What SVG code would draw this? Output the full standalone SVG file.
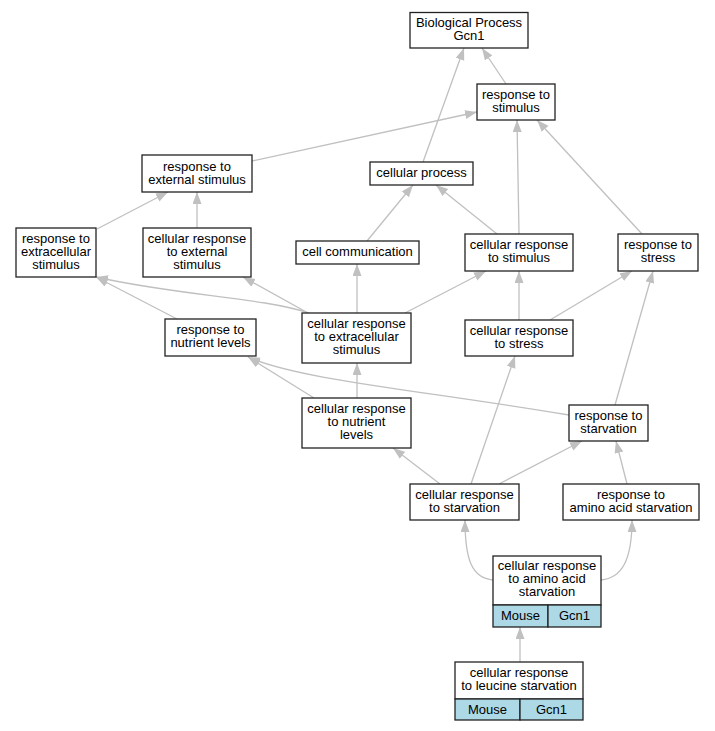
<svg xmlns="http://www.w3.org/2000/svg" width="715" height="731" viewBox="0 0 715 731">
<style>
.n rect{fill:#fff;stroke:#222;stroke-width:1.3}
.n rect.c{fill:#add8e6}
text{font-family:"Liberation Sans",Arial,sans-serif;font-size:13px;fill:#000;text-anchor:middle}
#edges path{fill:none;stroke:#c0c0c0;stroke-width:1.3;marker-end:url(#ah)}
</style>
<defs>
<marker id="ah" markerUnits="userSpaceOnUse" markerWidth="13" markerHeight="10" refX="12" refY="4.5" orient="auto">
<path d="M0,0 L12,4.5 L0,9 z" fill="#c0c0c0"/>
</marker>
</defs>
<rect width="715" height="731" fill="#fff"/>
<g id="edges">
<path d="M506,84 L482,48"/>
<path d="M423,162 L464,48"/>
<path d="M252,161 L477,112"/>
<path d="M519,234 L517,120"/>
<path d="M642,234 L537,120"/>
<path d="M97,229 L168,192"/>
<path d="M197,228 L197,192"/>
<path d="M367,241 L413,185"/>
<path d="M497,234 L436,185"/>
<path d="M309,313 C260,297 180,296 96,277"/>
<path d="M177,319 L96,277"/>
<path d="M308,313 L243,277"/>
<path d="M357,313 L357,264"/>
<path d="M405,313 L486,271"/>
<path d="M519,320 L519,271"/>
<path d="M550,320 L632,271"/>
<path d="M615,405 L653,271"/>
<path d="M569,415 C420,390 300,380 248,357"/>
<path d="M314,398 L248,357"/>
<path d="M357,398 L357,363"/>
<path d="M440,484 L393,448"/>
<path d="M471,484 L515,356"/>
<path d="M499,484 L582,441"/>
<path d="M627,484 L616,441"/>
<path d="M493,580 C472,578 465,560 465,520"/>
<path d="M601,580 C622,578 632,560 632,520"/>
<path d="M520,662 L520,627"/>
</g>
<g id="bp" class="n"><rect x="410" y="12.5" width="118" height="35.5"/><text x="469" y="27">Biological Process<tspan x="469" dy="13">Gcn1</tspan></text></g>
<g id="rs" class="n"><rect x="477" y="84" width="78" height="36"/><text x="516" y="99">response to<tspan x="516" dy="13">stimulus</tspan></text></g>
<g id="res_ext" class="n"><rect x="142" y="155" width="110" height="37"/><text x="197" y="170.5">response to<tspan x="197" dy="13">external stimulus</tspan></text></g>
<g id="cp" class="n"><rect x="370" y="162" width="103" height="23"/><text x="421.5" y="177">cellular process</text></g>
<g id="res_extra" class="n"><rect x="16" y="228" width="80" height="49"/><text x="56" y="242.5">response to<tspan x="56" dy="13">extracellular</tspan><tspan x="56" dy="13">stimulus</tspan></text></g>
<g id="cr_ext" class="n"><rect x="143" y="228" width="108" height="49"/><text x="197" y="242.5">cellular response<tspan x="197" dy="13">to external</tspan><tspan x="197" dy="13">stimulus</tspan></text></g>
<g id="cc" class="n"><rect x="296" y="241" width="123" height="23"/><text x="357.5" y="256">cell communication</text></g>
<g id="cr_stim" class="n"><rect x="465" y="234" width="108" height="37"/><text x="519" y="249">cellular response<tspan x="519" dy="13">to stimulus</tspan></text></g>
<g id="rstress" class="n"><rect x="618" y="234" width="80" height="37"/><text x="658" y="249">response to<tspan x="658" dy="13">stress</tspan></text></g>
<g id="rnut" class="n"><rect x="165" y="319" width="91" height="37"/><text x="210.5" y="334">response to<tspan x="210.5" dy="13">nutrient levels</tspan></text></g>
<g id="cr_extra" class="n"><rect x="302" y="313" width="109" height="50"/><text x="356.5" y="327.5">cellular response<tspan x="356.5" dy="13">to extracellular</tspan><tspan x="356.5" dy="13">stimulus</tspan></text></g>
<g id="cr_stress" class="n"><rect x="465" y="320" width="108" height="36"/><text x="519" y="334.5">cellular response<tspan x="519" dy="13">to stress</tspan></text></g>
<g id="cr_nut" class="n"><rect x="302" y="398" width="109" height="50"/><text x="356.5" y="413">cellular response<tspan x="356.5" dy="13">to nutrient</tspan><tspan x="356.5" dy="13">levels</tspan></text></g>
<g id="rstarv" class="n"><rect x="569" y="405" width="79" height="36"/><text x="608.5" y="419.5">response to<tspan x="608.5" dy="13">starvation</tspan></text></g>
<g id="cr_starv" class="n"><rect x="410" y="484" width="109" height="36"/><text x="464.5" y="498.5">cellular response<tspan x="464.5" dy="13">to starvation</tspan></text></g>
<g id="raa" class="n"><rect x="563" y="484" width="136" height="36"/><text x="631" y="498.5">response to<tspan x="631" dy="13">amino acid starvation</tspan></text></g>
<g id="cr_aa" class="n"><rect x="493" y="556" width="108" height="49"/><rect class="c" x="493" y="605" width="55" height="22"/><rect class="c" x="548" y="605" width="53" height="22"/><text x="547" y="570">cellular response<tspan x="547" dy="13">to amino acid</tspan><tspan x="547" dy="13">starvation</tspan></text><text x="520.5" y="620">Mouse</text><text x="574.5" y="620">Gcn1</text></g>
<g id="cr_leu" class="n"><rect x="455" y="662" width="128" height="37"/><rect class="c" x="455" y="699" width="65" height="21"/><rect class="c" x="520" y="699" width="63" height="21"/><text x="519" y="677">cellular response<tspan x="519" dy="13">to leucine starvation</tspan></text><text x="487.5" y="713.5">Mouse</text><text x="551.5" y="713.5">Gcn1</text></g>
</svg>
